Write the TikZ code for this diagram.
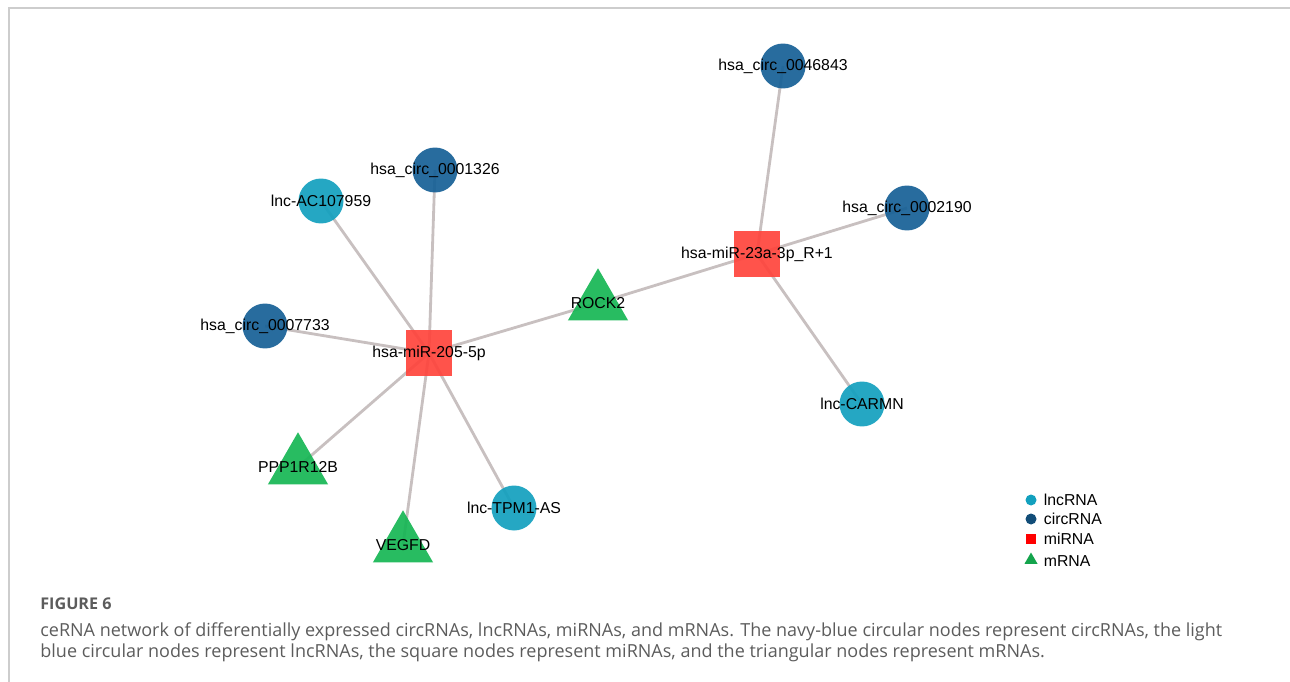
\documentclass[tikz,border=0pt]{standalone}
\usepackage{fontspec}
\setmainfont{Liberation Sans}
\newfontfamily\capfont{Open Sans}
\usepackage{tikz}
\usetikzlibrary{shapes,backgrounds}
\usetikzlibrary{positioning}

\definecolor{circcol}{RGB}{22,96,150}
\definecolor{lnccol}{RGB}{18,160,190}
\definecolor{mircol}{RGB}{255,68,60}
\definecolor{mrnacol}{RGB}{22,182,84}
\definecolor{edgecol}{RGB}{200,192,192}
\definecolor{framecol}{RGB}{205,205,205}
\definecolor{capcol}{RGB}{92,92,92}

\tikzset{
	lbl/.style={font=\fontsize{9}{10}\selectfont,text=black,text opacity=1,inner sep=0pt},
	circnode/.style={circle,fill=circcol,fill opacity=0.92,minimum size=0.9cm,inner sep=0pt},
	lncnode/.style={circle,fill=lnccol,fill opacity=0.92,minimum size=0.9cm,inner sep=0pt},
	mirnode/.style={rectangle,fill=mircol,fill opacity=0.92,minimum size=0.92cm,inner sep=0pt},
	mrnanode/.style={regular polygon,regular polygon sides=3,fill=mrnacol,fill opacity=0.92,minimum size=1.39cm,inner sep=0pt},
	link/.style={draw=edgecol,line width=1.6pt},
	keytext/.style={font=\fontsize{9}{10}\selectfont,anchor=west,inner sep=0pt},
	captext/.style={anchor=base west,inner sep=0pt,text=capcol,font=\capfont\fontsize{10.25}{12}\selectfont}
}

\begin{document}
\begin{tikzpicture}[x=0.02cm,y=-0.02cm]
	\useasboundingbox (0,0) rectangle (1290,682);
	\draw[framecol,line width=0.9pt] (9,682) -- (9,8) -- (1290,8);
	
	\node[mirnode][label={[lbl]center:hsa-miR-205-5p}] at (429,353) (M205) {};
	\node[mirnode][label={[lbl]center:hsa-miR-23a-3p\_R+1}] at (757,254) (M23) {};
	
	\node[circnode][label={[lbl]center:hsa\_circ\_0046843}] at (783,66) (C46843) {};
	\node[circnode][label={[lbl]center:hsa\_circ\_0002190}] at (907,208) (C2190) {};
	\node[circnode][label={[lbl]center:hsa\_circ\_0001326}] at (435,170) (C1326) {};
	\node[circnode][label={[lbl]center:hsa\_circ\_0007733}] at (265,326) (C7733) {};
	
	\node[lncnode][label={[lbl]center:lnc-AC107959}] at (321,201) (LAC) {};
	\node[lncnode][label={[lbl]center:lnc-TPM1-AS}] at (514,508) (LTPM) {};
	\node[lncnode][label={[lbl]center:lnc-CARMN}] at (862,404) (LCARMN) {};
	
	\node[mrnanode][label={[lbl]center:ROCK2}] at (598,303) (ROCK) {};
	\node[mrnanode][label={[lbl]center:PPP1R12B}] at (298,467) (PPP) {};
	\node[mrnanode][label={[lbl]center:VEGFD}] at (403,545) (VEGFD) {};
	
	\begin{scope}[on background layer]
	\foreach \t in {C1326,LAC,C7733,PPP,VEGFD,LTPM,ROCK}
		\draw[link] (M205.center) -- (\t.center);
	\foreach \t in {ROCK,C46843,C2190,LCARMN}
		\draw[link] (M23.center) -- (\t.center);
	\end{scope}
	
	% legend
	\node[circle,fill=lnccol,minimum size=0.22cm,inner sep=0pt] at (1031,500) (K1) {};
	\node[circle,fill=circcol!80!black,minimum size=0.22cm,inner sep=0pt] at (1031,519) (K2) {};
	\node[rectangle,fill=red,minimum size=0.2cm,inner sep=0pt] at (1031,539) (K3) {};
	\node[regular polygon,regular polygon sides=3,fill=mrnacol!90!black,minimum size=0.3cm,inner sep=0pt] at (1031,560) (K4) {};
	\node[keytext,right=0.25cm of K1.center] (T1) {lncRNA};
	\node[keytext,right=0.25cm of K2.center] (T2) {circRNA};
	\node[keytext,right=0.25cm of K3.center] (T3) {miRNA};
	\node[keytext,right=0.25cm of K4.center,yshift=-0.03cm] (T4) {mRNA};
	
	% caption
	\node[captext,font=\capfont\bfseries\fontsize{9.2}{12}\selectfont] at (40,609) (FIG) {FIGURE 6};
	\node[captext] at (40,636) (CAP1) {ceRNA network of differentially expressed circRNAs, lncRNAs, miRNAs, and mRNAs. The navy-blue circular nodes represent circRNAs, the light};
	\node[captext] at (40,657) (CAP2) {blue circular nodes represent lncRNAs, the square nodes represent miRNAs, and the triangular nodes represent mRNAs.};
\end{tikzpicture}
\end{document}
